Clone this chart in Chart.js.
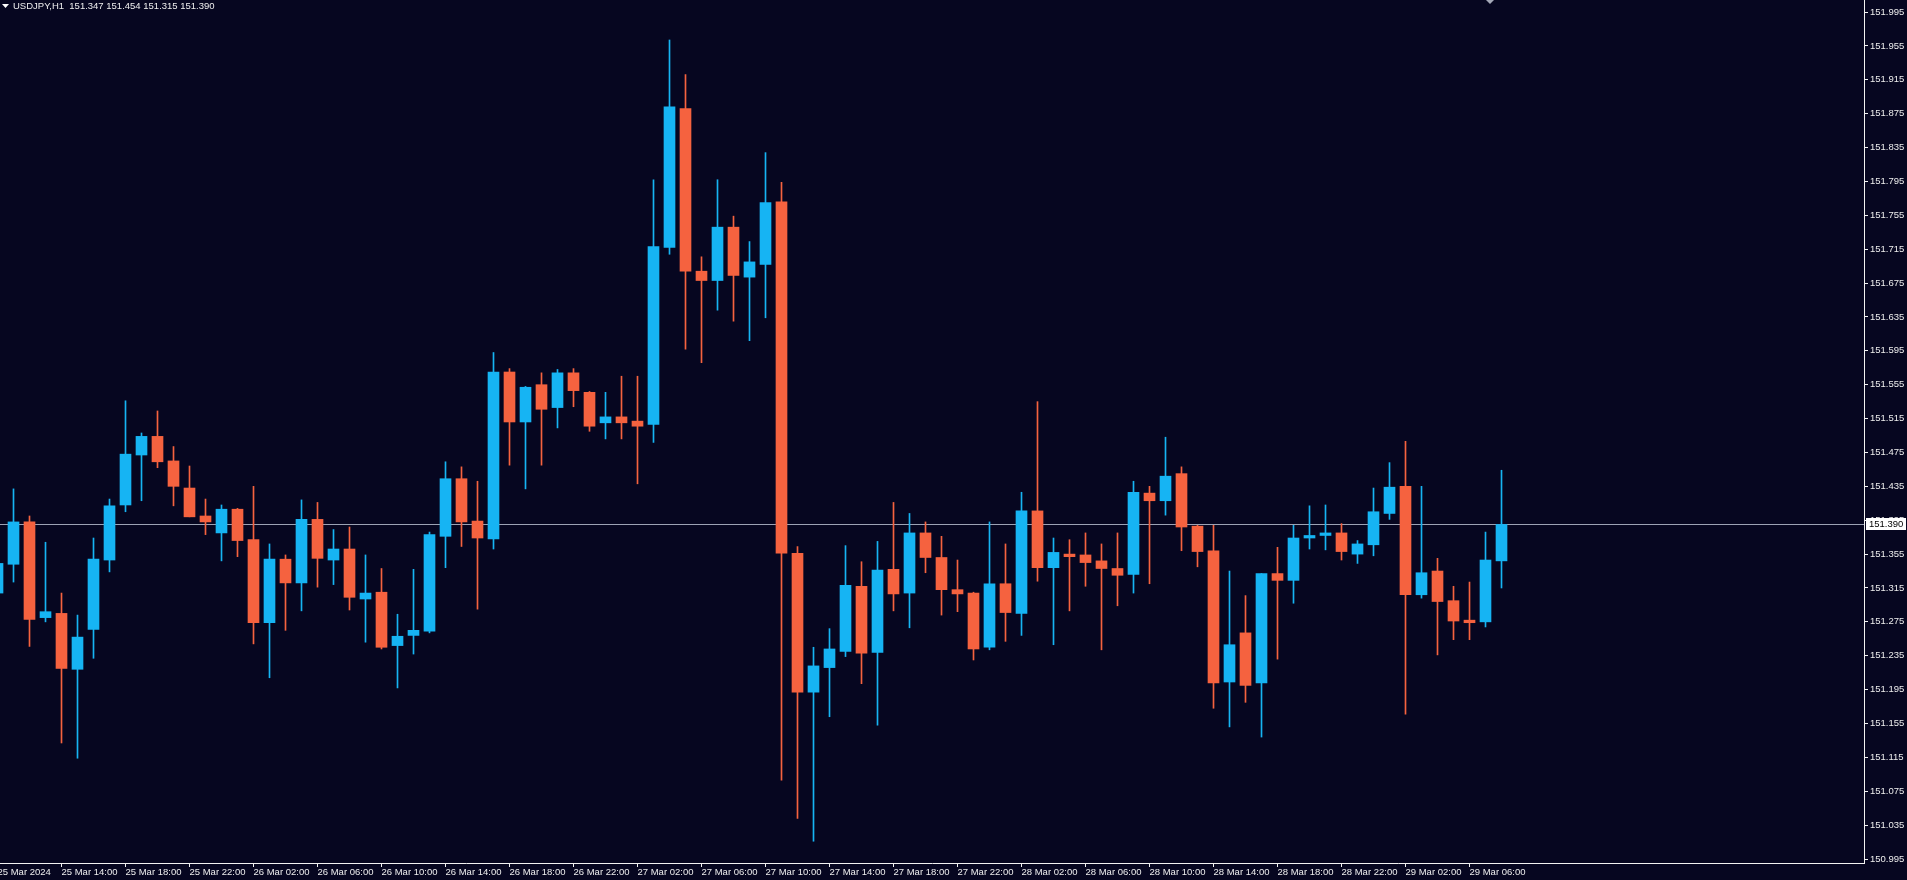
<!DOCTYPE html>
<html>
<head>
<meta charset="utf-8">
<title>USDJPY,H1</title>
<script src="https://cdn.jsdelivr.net/npm/chart.js@4.4.1/dist/chart.umd.min.js"></script>
<style>
  html, body { margin: 0; padding: 0; background: #060620; overflow: hidden; }
  canvas { display: block; }
</style>
</head>
<body>
<canvas id="grafico" width="1907" height="880"></canvas>
<script>
// USDJPY H1 - velas de 25 Mar 2024 10:00 a 29 Mar 2024 08:00

const symbolTitle = 'USDJPY,H1';

const openPrices = [
  151.309, 151.343, 151.393, 151.280, 151.285, 151.219, 151.266, 151.348, 151.413, 151.472,
  151.494, 151.465, 151.433, 151.400, 151.380, 151.408, 151.372, 151.274, 151.349, 151.321,
  151.396, 151.348, 151.361, 151.302, 151.310, 151.247, 151.259, 151.264, 151.376, 151.444,
  151.394, 151.373, 151.570, 151.511, 151.555, 151.528, 151.569, 151.546, 151.510, 151.517,
  151.512, 151.508, 151.717, 151.881, 151.689, 151.678, 151.741, 151.682, 151.697, 151.771,
  151.356, 151.192, 151.221, 151.240, 151.317, 151.239, 151.337, 151.309, 151.380, 151.351,
  151.313, 151.309, 151.245, 151.320, 151.285, 151.406, 151.339, 151.355, 151.354, 151.347,
  151.338, 151.331, 151.427, 151.418, 151.450, 151.388, 151.359, 151.204, 151.262, 151.203,
  151.332, 151.324, 151.374, 151.377, 151.380, 151.355, 151.366, 151.403, 151.435, 151.307,
  151.335, 151.300, 151.277, 151.275, 151.347
];
const highPrices = [
  151.358, 151.432, 151.400, 151.369, 151.309, 151.283, 151.374, 151.420, 151.536, 151.498,
  151.524, 151.482, 151.459, 151.420, 151.413, 151.409, 151.435, 151.367, 151.354, 151.419,
  151.416, 151.384, 151.387, 151.354, 151.338, 151.284, 151.337, 151.381, 151.464, 151.458,
  151.441, 151.593, 151.574, 151.553, 151.569, 151.573, 151.574, 151.547, 151.546, 151.565,
  151.565, 151.797, 151.962, 151.921, 151.706, 151.797, 151.754, 151.724, 151.829, 151.794,
  151.364, 151.245, 151.267, 151.365, 151.346, 151.370, 151.416, 151.403, 151.393, 151.376,
  151.348, 151.310, 151.393, 151.367, 151.428, 151.535, 151.374, 151.372, 151.380, 151.367,
  151.380, 151.441, 151.435, 151.493, 151.458, 151.389, 151.389, 151.335, 151.306, 151.332,
  151.363, 151.389, 151.412, 151.413, 151.391, 151.371, 151.433, 151.463, 151.488, 151.435,
  151.350, 151.317, 151.322, 151.381, 151.454
];
const lowPrices = [
  151.296, 151.322, 151.246, 151.275, 151.132, 151.114, 151.232, 151.334, 151.405, 151.418,
  151.457, 151.412, 151.399, 151.378, 151.347, 151.352, 151.249, 151.209, 151.265, 151.288,
  151.316, 151.319, 151.289, 151.251, 151.243, 151.197, 151.237, 151.262, 151.339, 151.364,
  151.290, 151.361, 151.460, 151.432, 151.460, 151.504, 151.529, 151.500, 151.491, 151.491,
  151.438, 151.487, 151.709, 151.597, 151.581, 151.643, 151.630, 151.607, 151.634, 151.088,
  151.043, 151.016, 151.163, 151.234, 151.202, 151.153, 151.288, 151.268, 151.333, 151.283,
  151.287, 151.230, 151.242, 151.252, 151.259, 151.323, 151.248, 151.288, 151.317, 151.242,
  151.294, 151.309, 151.320, 151.401, 151.359, 151.340, 151.173, 151.151, 151.180, 151.139,
  151.231, 151.297, 151.361, 151.360, 151.348, 151.344, 151.353, 151.396, 151.166, 151.303,
  151.236, 151.254, 151.254, 151.269, 151.315
];
const closePrices = [
  151.344, 151.393, 151.278, 151.287, 151.220, 151.257, 151.349, 151.412, 151.473, 151.494,
  151.464, 151.435, 151.399, 151.393, 151.408, 151.371, 151.274, 151.349, 151.321, 151.396,
  151.350, 151.361, 151.304, 151.309, 151.245, 151.258, 151.265, 151.378, 151.444, 151.393,
  151.374, 151.570, 151.511, 151.552, 151.526, 151.569, 151.548, 151.506, 151.517, 151.510,
  151.506, 151.718, 151.883, 151.689, 151.678, 151.741, 151.684, 151.700, 151.770, 151.356,
  151.192, 151.223, 151.243, 151.318, 151.238, 151.336, 151.308, 151.380, 151.351, 151.313,
  151.308, 151.243, 151.320, 151.286, 151.406, 151.339, 151.357, 151.352, 151.345, 151.338,
  151.330, 151.428, 151.418, 151.447, 151.387, 151.358, 151.203, 151.248, 151.200, 151.332,
  151.324, 151.374, 151.377, 151.380, 151.358, 151.367, 151.405, 151.434, 151.307, 151.333,
  151.299, 151.276, 151.274, 151.348, 151.390
];

// eixo do tempo: indice da vela e texto
const xTickIndex = [0, 4, 8, 12, 16, 20, 24, 28, 32, 36, 40, 44, 48, 52, 56, 60, 64, 68, 72, 76, 80, 84, 88, 92];
const xTickLabels = [
  '25 Mar 2024', '25 Mar 14:00', '25 Mar 18:00', '25 Mar 22:00', '26 Mar 02:00', '26 Mar 06:00',
  '26 Mar 10:00', '26 Mar 14:00', '26 Mar 18:00', '26 Mar 22:00', '27 Mar 02:00', '27 Mar 06:00',
  '27 Mar 10:00', '27 Mar 14:00', '27 Mar 18:00', '27 Mar 22:00', '28 Mar 02:00', '28 Mar 06:00',
  '28 Mar 10:00', '28 Mar 14:00', '28 Mar 18:00', '28 Mar 22:00', '29 Mar 02:00', '29 Mar 06:00'
];

// eixo de precos
const yTickLabels = [
  '150.995', '151.035', '151.075', '151.115', '151.155', '151.195', '151.235', '151.275', '151.315',
  '151.355', '151.395', '151.435', '151.475', '151.515', '151.555', '151.595', '151.635', '151.675',
  '151.715', '151.755', '151.795', '151.835', '151.875', '151.915', '151.955', '151.995'
];

// cores estilo MT4
const bgColor = '#060620';
const bullColor = '#16b4f3';
const bearColor = '#f5623f';
const axisColor = '#f2f2f2';
const textColor = '#eeeeee';
const bidLineColor = '#9ca2b4';
const fontFamily = '"Liberation Sans", Arial, sans-serif';

// escala horizontal: 16 px por vela, primeira vela cortada na borda
const barStep = 16;
const plotWidth = 1864;
const xMin = 2.5 / barStep;
const xMax = xMin + plotWidth / barStep;

const candleColors = closePrices.map((c, i) => c > openPrices[i] ? bullColor : bearColor);
const bodyData = openPrices.map((o, i) => ({ x: i, y: [o, closePrices[i]] }));
const wickData = lowPrices.map((l, i) => ({ x: i, y: [l, highPrices[i]] }));

const mtPlugin = {
  id: 'mtDecor',
  beforeDraw(chart) {
    const ctx = chart.ctx;
    ctx.save();
    ctx.fillStyle = bgColor;
    ctx.fillRect(0, 0, chart.width, chart.height);
    ctx.restore();
  },
  beforeDatasetsDraw(chart) {
    // linha do ultimo preco
    const ctx = chart.ctx;
    const area = chart.chartArea;
    const last = closePrices[closePrices.length - 1];
    const y = Math.round(chart.scales.y.getPixelForValue(last)) + 0.5;
    ctx.save();
    ctx.strokeStyle = bidLineColor;
    ctx.lineWidth = 1;
    ctx.beginPath();
    ctx.moveTo(area.left, y);
    ctx.lineTo(area.right, y);
    ctx.stroke();
    ctx.restore();
  },
  afterDraw(chart) {
    const ctx = chart.ctx;
    const area = chart.chartArea;
    const n = closePrices.length - 1;
    const last = closePrices[n];
    const y = Math.round(chart.scales.y.getPixelForValue(last));

    ctx.save();
    // caixa do preco no eixo
    ctx.fillStyle = '#ffffff';
    ctx.fillRect(area.right + 2, y - 6, 40, 12);
    ctx.fillStyle = '#000000';
    ctx.font = '9.5px ' + fontFamily;
    ctx.textBaseline = 'middle';
    ctx.textAlign = 'left';
    ctx.fillText(last.toFixed(3), area.right + 5, y + 0.5);

    // titulo no canto
    ctx.fillStyle = '#ffffff';
    ctx.beginPath();
    ctx.moveTo(2, 4);
    ctx.lineTo(9, 4);
    ctx.lineTo(5.5, 8);
    ctx.closePath();
    ctx.fill();
    ctx.fillStyle = textColor;
    const ohlc = [openPrices[n], highPrices[n], lowPrices[n], closePrices[n]].map(v => v.toFixed(3)).join(' ');
    ctx.fillText(symbolTitle + '  ' + ohlc, 13, 6.5);

    // marcador de deslocamento do grafico
    ctx.fillStyle = '#a4a8b8';
    ctx.beginPath();
    ctx.moveTo(1486, 0);
    ctx.lineTo(1494, 0);
    ctx.lineTo(1490, 4);
    ctx.closePath();
    ctx.fill();
    ctx.restore();
  }
};

const tickFont = { family: fontFamily, size: 9.5 };

new Chart(document.getElementById('grafico'), {
  type: 'bar',
  data: {
    datasets: [
      {
        label: 'corpo',
        data: bodyData,
        backgroundColor: candleColors,
        borderWidth: 0,
        barThickness: 11,
        minBarLength: 1,
        grouped: false
      },
      {
        label: 'pavio',
        data: wickData,
        backgroundColor: candleColors,
        borderWidth: 0,
        barThickness: 1,
        grouped: false
      }
    ]
  },
  options: {
    responsive: false,
    animation: false,
    events: [],
    layout: { padding: 0 },
    plugins: {
      legend: { display: false },
      tooltip: { enabled: false },
      title: { display: false }
    },
    scales: {
      x: {
        type: 'linear',
        position: 'bottom',
        min: xMin,
        max: xMax,
        offset: false,
        grid: { display: true, offset: false, drawOnChartArea: false, drawTicks: true, tickLength: 4, tickColor: axisColor, color: axisColor },
        border: { display: true, color: axisColor, width: 1 },
        ticks: {
          autoSkip: false,
          maxRotation: 0,
          minRotation: 0,
          align: 'start',
          padding: 0,
          color: textColor,
          font: tickFont,
          callback: (v, idx) => xTickLabels[idx]
        },
        afterBuildTicks: axis => { axis.ticks = xTickIndex.map(v => ({ value: v })); },
        afterFit: axis => { axis.height = 17; axis.paddingLeft = 0; axis.paddingRight = 0; }
      },
      y: {
        type: 'linear',
        position: 'right',
        min: 150.9903,
        max: 152.0092,
        grid: { display: true, drawOnChartArea: false, drawTicks: true, tickLength: 4, tickColor: axisColor, color: axisColor },
        border: { display: true, color: axisColor, width: 1 },
        ticks: {
          autoSkip: false,
          padding: 2,
          color: textColor,
          font: tickFont,
          callback: (v, idx) => yTickLabels[idx]
        },
        afterBuildTicks: axis => { axis.ticks = yTickLabels.map(s => ({ value: parseFloat(s) })); },
        afterFit: axis => { axis.width = 43; axis.paddingTop = 0; axis.paddingBottom = 0; }
      }
    }
  },
  plugins: [mtPlugin]
});
</script>
</body>
</html>
